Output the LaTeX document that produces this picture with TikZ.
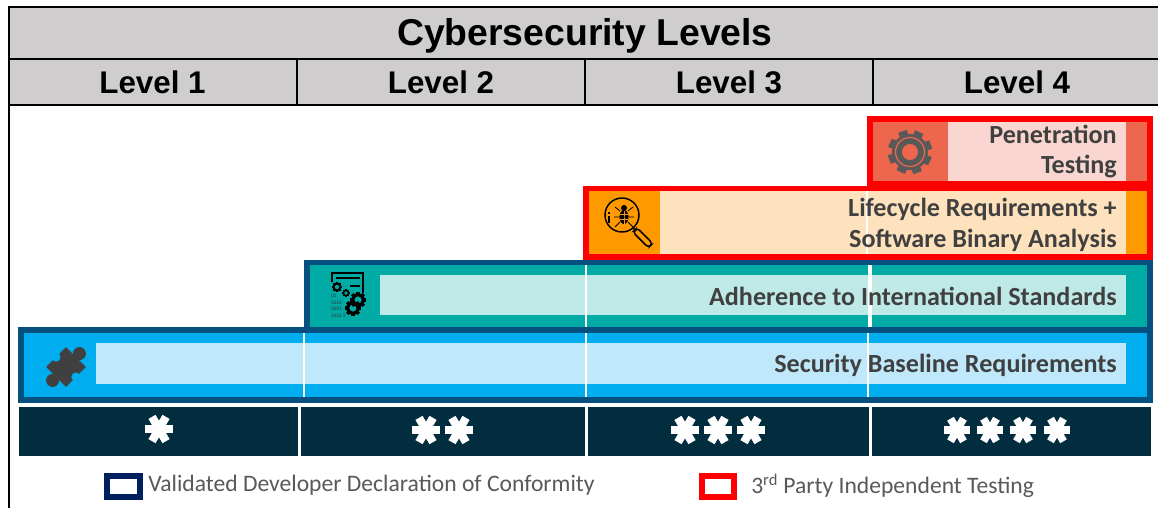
\documentclass[tikz,border=0pt]{standalone}
\usepackage{fontspec}
\setmainfont{Liberation Sans}
\newfontfamily\carl{Carlito}
\definecolor{hdr}{HTML}{CFCDCE}
\definecolor{nblue}{HTML}{05507F}
\definecolor{nred}{HTML}{FF0000}
\definecolor{pdark}{HTML}{EC674E}
\definecolor{plight}{HTML}{F9D6CF}
\definecolor{orng}{HTML}{FF9900}
\definecolor{olight}{HTML}{FDE2BD}
\definecolor{teal1}{HTML}{00ABA5}
\definecolor{tlight}{HTML}{BFE9E6}
\definecolor{sky}{HTML}{00AEEF}
\definecolor{slight}{HTML}{BFE9FA}
\definecolor{navy}{HTML}{022D3F}
\definecolor{txt}{HTML}{404040}
\definecolor{leg}{HTML}{595959}
\definecolor{legblue}{HTML}{002060}
\tikzset{
 x=0.75pt,y=-0.75pt,
 hdrcell/.style={fill=hdr,draw=black,line width=1.5pt},
 bartext/.style={font=\carl\bfseries\fontsize{19.6}{23.2}\selectfont,text=txt,align=right,anchor=east,inner sep=0pt},
 legtext/.style={font=\carl\fontsize{17.7}{21}\selectfont,text=leg,anchor=west,inner sep=0pt},
 levtext/.style={font=\bfseries\fontsize{23.5}{28}\selectfont,inner sep=0pt},
 sepline/.style={white,line width=1.8pt},
 starbar/.style={fill=navy},
}
\newcommand{\aster}[3]{% x, y, radius
 \foreach \a in {0,60,120}{
  \draw[white,line width=#3*0.44pt,rotate around={\a:(#1,#2)}] (#1-#3,#2) -- (#1+#3,#2);}
 \fill[white] (#1,#2) circle[radius=#3*0.6];
}
\begin{document}
\begin{tikzpicture}
\useasboundingbox (0,0) rectangle (1158,508);
\fill[white] (0,0) rectangle (1158,508);
% table header
\draw[hdrcell] (9,7) rectangle (1160,59);
\draw[hdrcell] (9,59) rectangle (297,105);
\draw[hdrcell] (297,59) rectangle (585,105);
\draw[hdrcell] (585,59) rectangle (873,105);
\draw[hdrcell] (873,59) rectangle (1160,105);
\draw[black,line width=1.5pt] (9,105) -- (9,508);
\node[levtext,font=\bfseries\fontsize{28}{32}\selectfont] (title) at (585,36) {Cybersecurity Levels};
\node[levtext] (l1) at (152.5,82) {Level 1};
\node[levtext] (l2) at (441,82) {Level 2};
\node[levtext] (l3) at (729,82) {Level 3};
\node[levtext] (l4) at (1017,82) {Level 4};
% baseline bar
\fill[nblue] (18,327) rectangle (1153,403);
\fill[sky] (24,333) rectangle (1147,397);
\fill[slight] (95.5,343) rectangle (1126,384);
\foreach \x in {304,586,868} \draw[sepline] (\x,333) -- (\x,397);
\node[bartext] (sb) at (1117,365) {Security Baseline Requirements};
% standards bar
\fill[nblue] (304,260) rectangle (1153,333);
\fill[teal1] (310,265) rectangle (1147,327);
\fill[tlight] (380,275) rectangle (1126,315);
\draw[sepline] (586,265) -- (586,327);
\draw[white,line width=3pt] (870,265) -- (870,327);
\node[bartext] (st) at (1117,296) {Adherence to International Standards};
% lifecycle bar
\fill[nred] (583,186) rectangle (1153,260);
\fill[orng] (589,191) rectangle (1147,254);
\fill[olight] (660,191) rectangle (1126,254);
\draw[white,line width=1.6pt] (867,191) -- (867,254);
\node[bartext] (lc) at (1117,225) {Lifecycle Requirements +\\Software Binary Analysis};
% penetration bar
\fill[nred] (867,116) rectangle (1153,186);
\fill[pdark] (873,122) rectangle (1147,181);
\fill[plight] (948,122) rectangle (1126,181);
\node[bartext] (pt) at (1117,151.5) {Penetration\\Testing};
% gear icon
\fill[leg] (910,152) circle[radius=18];
\foreach \a in {0,45,...,315}
  \fill[leg,rotate around={\a+20:(910,152)}] (905.5,130) rectangle (914.5,140);
\draw[pdark,line width=0.9pt] (910,152) circle[radius=14.5];
\draw[leg,line width=3.4pt] (910,152) circle[radius=10.5];
\fill[pdark] (910,152) circle[radius=8];
% magnifier icon
\draw[black,line width=1.1pt] (622,215) circle[radius=17];
\draw[black,line width=1.2pt] (633,228) -- (636,231);
\draw[black,line width=1.1pt,rounded corners=2.5pt,rotate around={45:(635,230)}] (632,230) rectangle (638,252);
\fill[black] (624,217) ellipse[x radius=4.5,y radius=7];
\fill[black] (624,208) circle[radius=3];
\draw[orng,line width=0.7pt] (624,211) -- (624,224) (620,214) -- (628,214) (620,219) -- (628,219);
\draw[black,line width=0.6pt] (615,207) -- (620,211) (633,207) -- (628,211) (614,217) -- (634,217) (615,227) -- (620,222) (633,227) -- (628,222);
\draw[black,line width=0.9pt] (609,212) -- (609,213.5) (609,216) -- (609,223);
% document-with-gears icon
\draw[black,line width=1.2pt] (332,282) -- (332,273) -- (363,273) -- (363,293);
\draw[black,line width=1.1pt] (336,278) -- (360,278) (350,286) -- (360,286);
\foreach \cx/\cy/\r in {337/287/3.5,346/293/2.5,358/300/5.5,353/308/5.5}{
  \draw[black,line width=\r*0.45pt] (\cx,\cy) circle[radius=\r];
  \foreach \a in {0,45,...,315}
    \fill[black,rotate around={\a:(\cx,\cy)}] (\cx-\r*0.3,\cy-\r-\r*0.5) rectangle (\cx+\r*0.3,\cy-\r);
}
\node[font=\fontsize{3.6}{5.2}\selectfont,align=left,inner sep=0pt,anchor=north west,text=black!80] (bin) at (331,293.5) {01\\0110\\0001\\0110 1};
% puzzle icon
\begin{scope}[rotate around={-45:(66,367)}]
\fill[txt] (52,353) rectangle (80,381);
\fill[txt] (66,348) circle[radius=6.5];
\fill[txt] (66,386) circle[radius=6.5];
\fill[sky] (80,367) circle[radius=4.5];
\fill[sky] (52,367) circle[radius=4.5];
\end{scope}
% star bars
\fill[starbar] (19,407) rectangle (298,456);
\fill[starbar] (301,407) rectangle (585,456);
\fill[starbar] (588,407) rectangle (869,456);
\fill[starbar] (872,407) rectangle (1151,456);
\aster{159}{429}{14}
\aster{426}{430}{14} \aster{459}{430}{14}
\aster{685}{430}{14} \aster{718}{430}{14} \aster{751}{430}{14}
\aster{957}{430}{13} \aster{990}{430}{13} \aster{1023}{430}{13} \aster{1057}{430}{13}
% legend
\draw[legblue,line width=4.2pt] (107,476) rectangle (140,497);
\node[legtext] (lg1) at (148,485) {Validated Developer Declaration of Conformity};
\draw[nred,line width=4.2pt] (702,476) rectangle (734,497);
\node[legtext] (lg2) at (751,486) {3\textsuperscript{rd} Party Independent Testing};
\end{tikzpicture}
\end{document}
